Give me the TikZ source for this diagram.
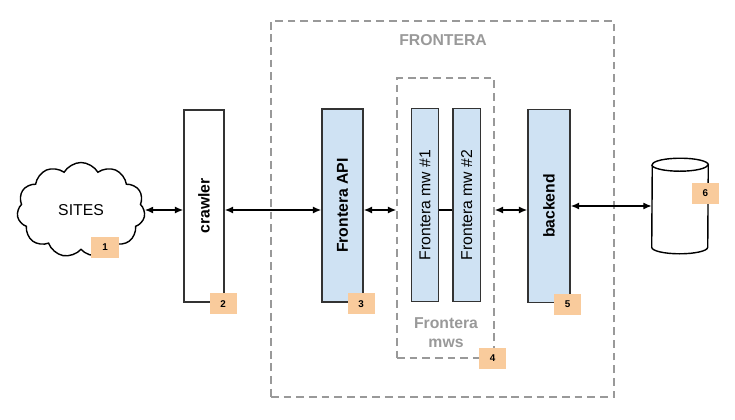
\documentclass[tikz,border=0pt]{standalone}
\usepackage{fontspec}
\setmainfont{Liberation Sans}
\usetikzlibrary{shapes.symbols, arrows.meta, calc}

\definecolor{boxblue}{HTML}{CFE2F3}
\definecolor{tagorange}{HTML}{F9CB9C}
\definecolor{dashgray}{HTML}{999999}
\definecolor{boxedge}{HTML}{333333}

\tikzset{
  partbox/.style={draw=boxedge, line width=1pt, fill=boxblue, minimum width=1.025cm,
    minimum height=4.825cm, inner sep=0pt, font=\fontsize{11.2}{13.5}\selectfont\bfseries},
  groupbox/.style={draw=dashgray, line width=1pt, dash pattern=on 5.5pt off 3.5pt, inner sep=0pt},
  numtag/.style={fill=tagorange, minimum width=0.675cm, minimum height=0.525cm, inner sep=0pt,
    font=\fontsize{7}{8}\selectfont\bfseries},
  biarrow/.style={line width=1pt, {Latex[length=6pt,width=5pt]}-{Latex[length=6pt,width=5pt]}},
  drumend/.style={x radius=0.7cm, y radius=0.1625cm},
}

\begin{document}
\begin{tikzpicture}[x=0.025cm, y=-0.025cm]
      \useasboundingbox (0,0) rectangle (735,420);
      % dashed groups
      \node[groupbox, minimum width=8.575cm, minimum height=9.4cm] (frontera) at (442.5,209) {};
      \node[font=\fontsize{11.2}{13.5}\selectfont\bfseries, text=dashgray] (fronteralbl) at (443,40) {FRONTERA};
      \node[groupbox, minimum width=2.425cm, minimum height=7cm] (mws) at (445.5,218) {};
      \node[font=\fontsize{11.2}{13.5}\selectfont\bfseries, text=dashgray, align=center] (mwslbl) at (446,333) {Frontera\\mws};

      % sites and storage
      \node[cloud, draw, line width=1pt, cloud puffs=11, cloud puff arc=120, cloud ignores aspect,
        minimum width=3.2cm, minimum height=2.375cm, inner sep=0pt,
        font=\fontsize{11.2}{13.5}\selectfont] (sites) at (81,210) {SITES};
      \node[minimum width=1.4cm, minimum height=2.375cm, inner sep=0pt] (db) at (680,206) {};
      \draw[line width=1pt, fill=white] ($(db.south west)+(0,-6.5)$) arc[start angle=180, end angle=360, drumend]
        -- ($(db.north east)+(0,6.5)$) arc[start angle=0, end angle=180, drumend] -- cycle;
      \draw[line width=1pt] ($(db.north west)+(0,6.5)$) arc[start angle=180, end angle=360, drumend];

      % components
      \node[partbox, fill=white, minimum width=1cm, minimum height=4.8cm] (crawler) at (204,206) {\rotatebox{90}{crawler}};
      \node[partbox] (api) at (342.5,205.5) {\rotatebox{90}{Frontera API}};
      \node[partbox, minimum width=0.68cm, font=\fontsize{11.2}{13.5}\selectfont] (mw1) at (425,205) {\rotatebox{90}{Frontera mw \#1}};
      \node[partbox, minimum width=0.68cm, font=\fontsize{11.2}{13.5}\selectfont] (mw2) at (466.7,205) {\rotatebox{90}{Frontera mw \#2}};
      \node[partbox, minimum width=1.05cm] (backend) at (549,206) {\rotatebox{90}{backend}};

      % connectors
      \draw[biarrow] (sites.east) -- (sites.east -| crawler.west);
      \draw[biarrow] (crawler.east |- sites.east) -- (sites.east -| api.west);
      \draw[biarrow] (api.east |- sites.east) -- (sites.east -| mws.west);
      \draw[line width=1pt] (mw1.east |- sites.east) -- (sites.east -| mw2.west);
      \draw[biarrow] (mws.east |- sites.east) -- (sites.east -| backend.west);
      \draw[biarrow] (backend.east) -- (db.west);

      % numbers
      \node[numtag] (n1) at (105,247.5) {1};
      \node[numtag] (n2) at ($(crawler.south east)+(-1.5,1)$) {2};
      \node[numtag] (n3) at ($(api.south east)+(-2.5,1)$) {3};
      \node[numtag] (n4) at ($(mws.south east)+(-2,-0.5)$) {4};
      \node[numtag] (n5) at ($(backend.south east)+(-3,1)$) {5};
      \node[numtag] (n6) at ($(db.east)+(-3,-12.5)$) {6};
    \end{tikzpicture}
\end{document}
